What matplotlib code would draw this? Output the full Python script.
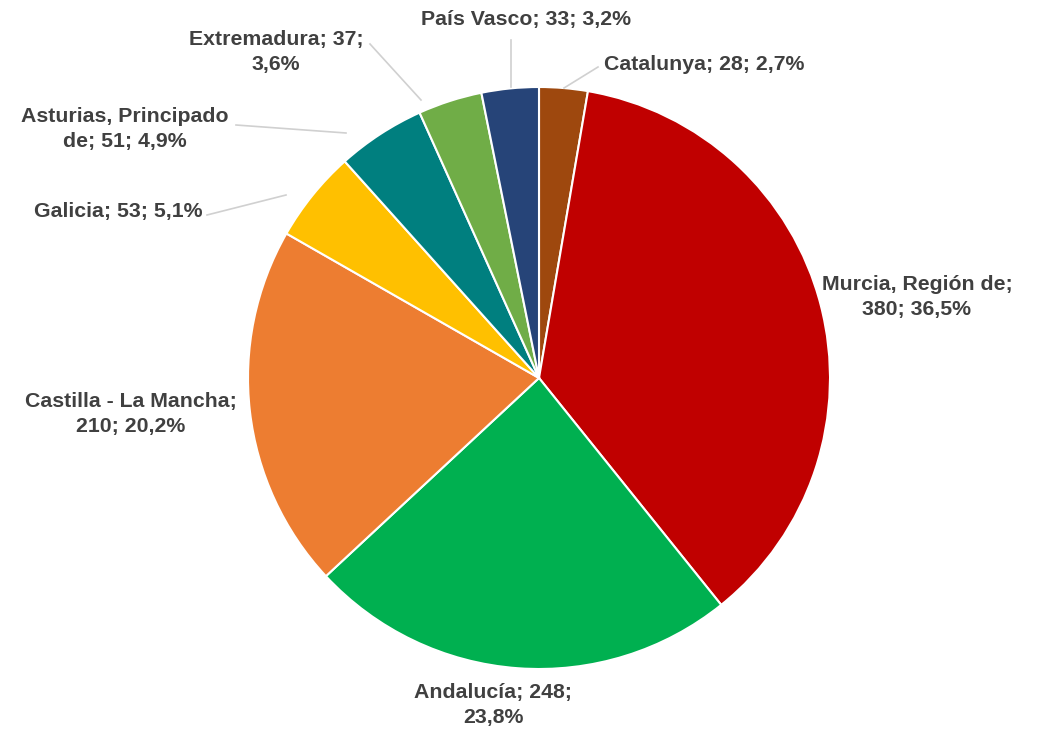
import matplotlib.pyplot as plt

# Excel order: first slice starts at 12 o'clock, clockwise
regions = ['Catalunya', 'Murcia, Región de', 'Andalucía', 'Castilla - La Mancha',
           'Galicia', 'Asturias, Principado de', 'Extremadura', 'País Vasco']
values = [28, 380, 248, 210, 53, 51, 37, 33]
pcts = ['2,7%', '36,5%', '23,8%', '20,2%', '5,1%', '4,9%', '3,6%', '3,2%']
colors = ['#9E480E', '#C00000', '#00B050', '#ED7D31', '#FFC000', '#007F7F', '#70AD47', '#264478']

# label text (line breaks as in the original) and layout in pixel coords
label_text = [
    'Catalunya; 28; 2,7%',
    'Murcia, Región de;\n380; 36,5%',
    'Andalucía; 248;\n23,8%',
    'Castilla - La Mancha;\n210; 20,2%',
    'Galicia; 53; 5,1%',
    'Asturias, Principado\nde; 51; 4,9%',
    'Extremadura; 37;\n3,6%',
    'País Vasco; 33; 3,2%',
]
label_pos = [(704, 65), (917, 297), (493, 705), (131, 414), (118, 212),
             (125, 129), (276, 52), (526, 20)]
# leader lines (from, to) in pixel coords, None = no line
leaders = [((598, 67), (564, 88)), None, None, None,
           ((207, 215), (286, 195)),
           ((236, 125), (346, 133)),
           ((370, 44), (421, 100)),
           ((511, 40), (511, 87))]

W, H = 1039, 731
fig = plt.figure(figsize=(W / 100, H / 100), dpi=100)
ax = fig.add_axes([0, 0, 1, 1])

cx, cy, r = 539, H - 378, 291
ax.pie(values, colors=colors, startangle=90, counterclock=False,
       center=(cx, cy), radius=r, frame=True,
       wedgeprops=dict(edgecolor='white', linewidth=1.5))
ax.set_xlim(0, W)
ax.set_ylim(0, H)
ax.axis('off')

for (p0, p1) in [l for l in leaders if l is not None]:
    ax.plot([p0[0], p1[0]], [H - p0[1], H - p1[1]], color='#D0D0D0', lw=1.2)

for txt, (x, y) in zip(label_text, label_pos):
    ax.text(x, H - y, txt, ha='center', va='center', fontsize=15.3,
            fontweight='bold', color='#404040', family='Liberation Sans',
            linespacing=1.35)

fig.savefig('out.png', dpi=100)
